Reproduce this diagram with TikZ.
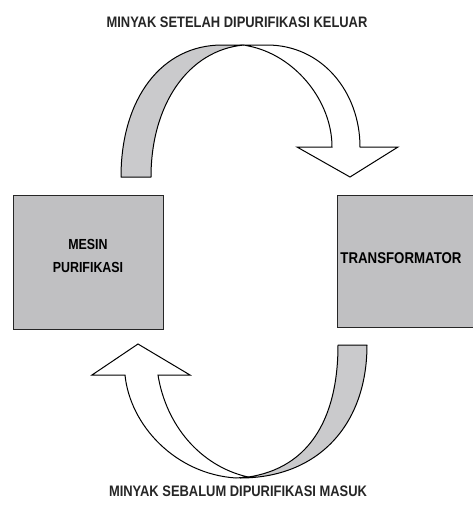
\documentclass[tikz,border=0pt]{standalone}
\usepackage{fontspec}
\setmainfont{Liberation Sans}
\newfontfamily\narrowfont[FakeStretch=0.85]{Liberation Sans}
\begin{document}
\begin{tikzpicture}[x=1pt,y=-1pt,
  boxstyle/.style={draw=black!85,line width=1.1pt,fill=boxgray},
  bandstyle/.style={draw=black,line width=1pt,fill=bandgray,line join=round},
  whitestyle/.style={draw=black,line width=1pt,fill=white,line join=miter},
  lbl/.style={inner sep=0pt,text=black!85,font=\narrowfont\bfseries\fontsize{15.2}{16}\selectfont},
  boxlbl/.style={inner sep=0pt,align=center,font=\narrowfont\bfseries\fontsize{14.6}{23}\selectfont}]
\definecolor{boxgray}{RGB}{192,192,194}
\definecolor{bandgray}{RGB}{202,202,204}
\clip (0,0) rectangle (473,509);
\fill[white] (0,0) rectangle (473,509);
% boxes
\node[boxstyle,minimum width=150pt,minimum height=134pt,anchor=north west,inner sep=0pt] (mesin) at (13,195) {};
\node[boxstyle,minimum width=150pt,minimum height=132pt,anchor=north west,inner sep=0pt] (trafo) at (337,195) {};
\node[boxlbl] (mesinlbl) at (88,256) {MESIN\\PURIFIKASI};
\node[boxlbl,font=\narrowfont\bfseries\fontsize{15.6}{16}\selectfont] (trafolbl) at (401,258) {TRANSFORMATOR};
% top arrow
\coordinate (tA) at (121,177);
\coordinate (tB) at (151,177);
\draw[whitestyle] (244,45) -- (267,45) .. controls (322,45) and (360,92) .. (360,147)
  -- (398,147) -- (350,177) -- (297,147) -- (332,147)
  .. controls (332,102) and (297,58) .. (253,47) -- cycle;
\draw[bandstyle] (tA) .. controls (121,98) and (162,45) .. (222,45) -- (244,45)
  .. controls (188,50) and (151,105) .. (tB) -- cycle;
% bottom arrow
\coordinate (bA) at (338,345);
\coordinate (bB) at (367,345);
\draw[whitestyle] (236,478) .. controls (175,474) and (130,425) .. (125,375)
  -- (92,375) -- (138,344) -- (190,375) -- (158,375)
  .. controls (166,425) and (200,466) .. (248,477) -- cycle;
\draw[bandstyle] (bA) -- (bB) .. controls (367,425) and (318,478) .. (240,478)
  .. controls (308,472) and (338,420) .. (bA) -- cycle;
% labels
\node[lbl] (toplbl) at (237,22) {MINYAK SETELAH DIPURIFIKASI KELUAR};
\node[lbl] (botlbl) at (238,491) {MINYAK SEBALUM DIPURIFIKASI MASUK};
\end{tikzpicture}
\end{document}
